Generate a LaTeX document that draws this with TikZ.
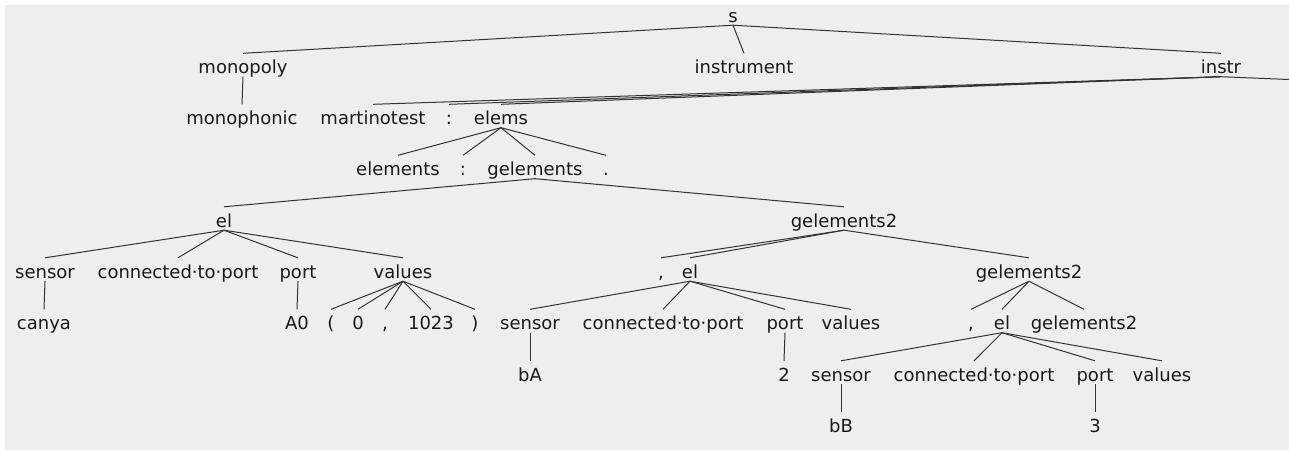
\documentclass[tikz,border=0pt]{standalone}
\usepackage{fontspec}
\setmainfont{DejaVu Sans}
\begin{document}
\begin{tikzpicture}[x=1pt,y=-1pt,
  tn/.style={anchor=base,inner sep=0pt,text height=20pt,text depth=3pt,
    font=\fontsize{18}{20}\selectfont,text=txtc},
  edge/.style={draw=linec,line width=1pt}]
\definecolor{txtc}{HTML}{1A1A1A}
\definecolor{linec}{HTML}{333333}
\definecolor{bgc}{HTML}{EEEEEE}
\useasboundingbox (0,0) rectangle (1289,450);
\fill[white] (0,0) rectangle (1289,450);
\fill[bgc] (5,5) rectangle (1289,450);
% row 0
\node[tn] (s) at (733,22) {s};
% row 1
\node[tn] (monopoly) at (243,73.5) {monopoly};
\node[tn] (instrument) at (744,73.5) {instrument};
\node[tn] (instr) at (1221,73.5) {instr};
% row 2
\node[tn] (monophonic) at (242,124.5) {monophonic};
\node[tn] (martinotest) at (373,124.5) {martinotest};
\node[tn] (colA) at (449,124.5) {:};
\node[tn] (elems) at (501,124.5) {elems};
\coordinate (off) at (1289,79.5);
% row 3
\node[tn] (elements) at (398,175.5) {elements};
\node[tn] (colB) at (463,175.5) {:};
\node[tn] (gelements) at (535,175.5) {gelements};
\node[tn] (dot) at (606,175.5) {.};
% row 4
\node[tn] (elA) at (224,227) {el};
\node[tn] (geA) at (844,227) {gelements2};
% row 5
\node[tn] (sensorA) at (45,278) {sensor};
\node[tn] (ctpA) at (178,278) {connected·to·port};
\node[tn] (portA) at (298,278) {port};
\node[tn] (valuesA) at (403,278) {values};
\node[tn] (comB) at (661,278) {,};
\node[tn] (elB) at (690,278) {el};
\node[tn] (geB) at (1029,278) {gelements2};
% row 6
\node[tn] (canya) at (44,329.5) {canya};
\node[tn] (A0) at (297,329.5) {A0};
\node[tn] (lp) at (331,329.5) {(};
\node[tn] (zero) at (358,329.5) {0};
\node[tn] (comA) at (385,329.5) {,};
\node[tn] (n1023) at (431,329.5) {1023};
\node[tn] (rp) at (475,329.5) {)};
\node[tn] (sensorB) at (530,329.5) {sensor};
\node[tn] (ctpB) at (663,329.5) {connected·to·port};
\node[tn] (portB) at (785,329.5) {port};
\node[tn] (valuesB) at (851,329.5) {values};
\node[tn] (comC) at (971,329.5) {,};
\node[tn] (elC) at (1002,329.5) {el};
\node[tn] (geC) at (1084,329.5) {gelements2};
% row 7
\node[tn] (bA) at (530,381) {bA};
\node[tn] (two) at (784,381) {2};
\node[tn] (sensorC) at (841,381) {sensor};
\node[tn] (ctpC) at (974,381) {connected·to·port};
\node[tn] (portC) at (1095,381) {port};
\node[tn] (valuesC) at (1162,381) {values};
% row 8
\node[tn] (bB) at (841,432) {bB};
\node[tn] (three) at (1095,432) {3};
% edges
\foreach \p/\c in {s/monopoly,s/instrument,s/instr,monopoly/monophonic,
  instr/martinotest,instr/colA,instr/elems,
  elems/elements,elems/colB,elems/gelements,elems/dot,
  gelements/elA,gelements/geA,
  elA/sensorA,elA/ctpA,elA/portA,elA/valuesA,
  sensorA/canya,portA/A0,
  valuesA/lp,valuesA/zero,valuesA/comA,valuesA/n1023,valuesA/rp,
  geA/comB,geA/elB,geA/geB,
  elB/sensorB,elB/ctpB,elB/portB,elB/valuesB,
  sensorB/bA,portB/two,
  geB/comC,geB/elC,geB/geC,
  elC/sensorC,elC/ctpC,elC/portC,elC/valuesC,
  sensorC/bB,portC/three}
  \draw[edge] (\p.south) -- (\c.north);
\draw[edge] (instr.south) -- (off);
\end{tikzpicture}
\end{document}
